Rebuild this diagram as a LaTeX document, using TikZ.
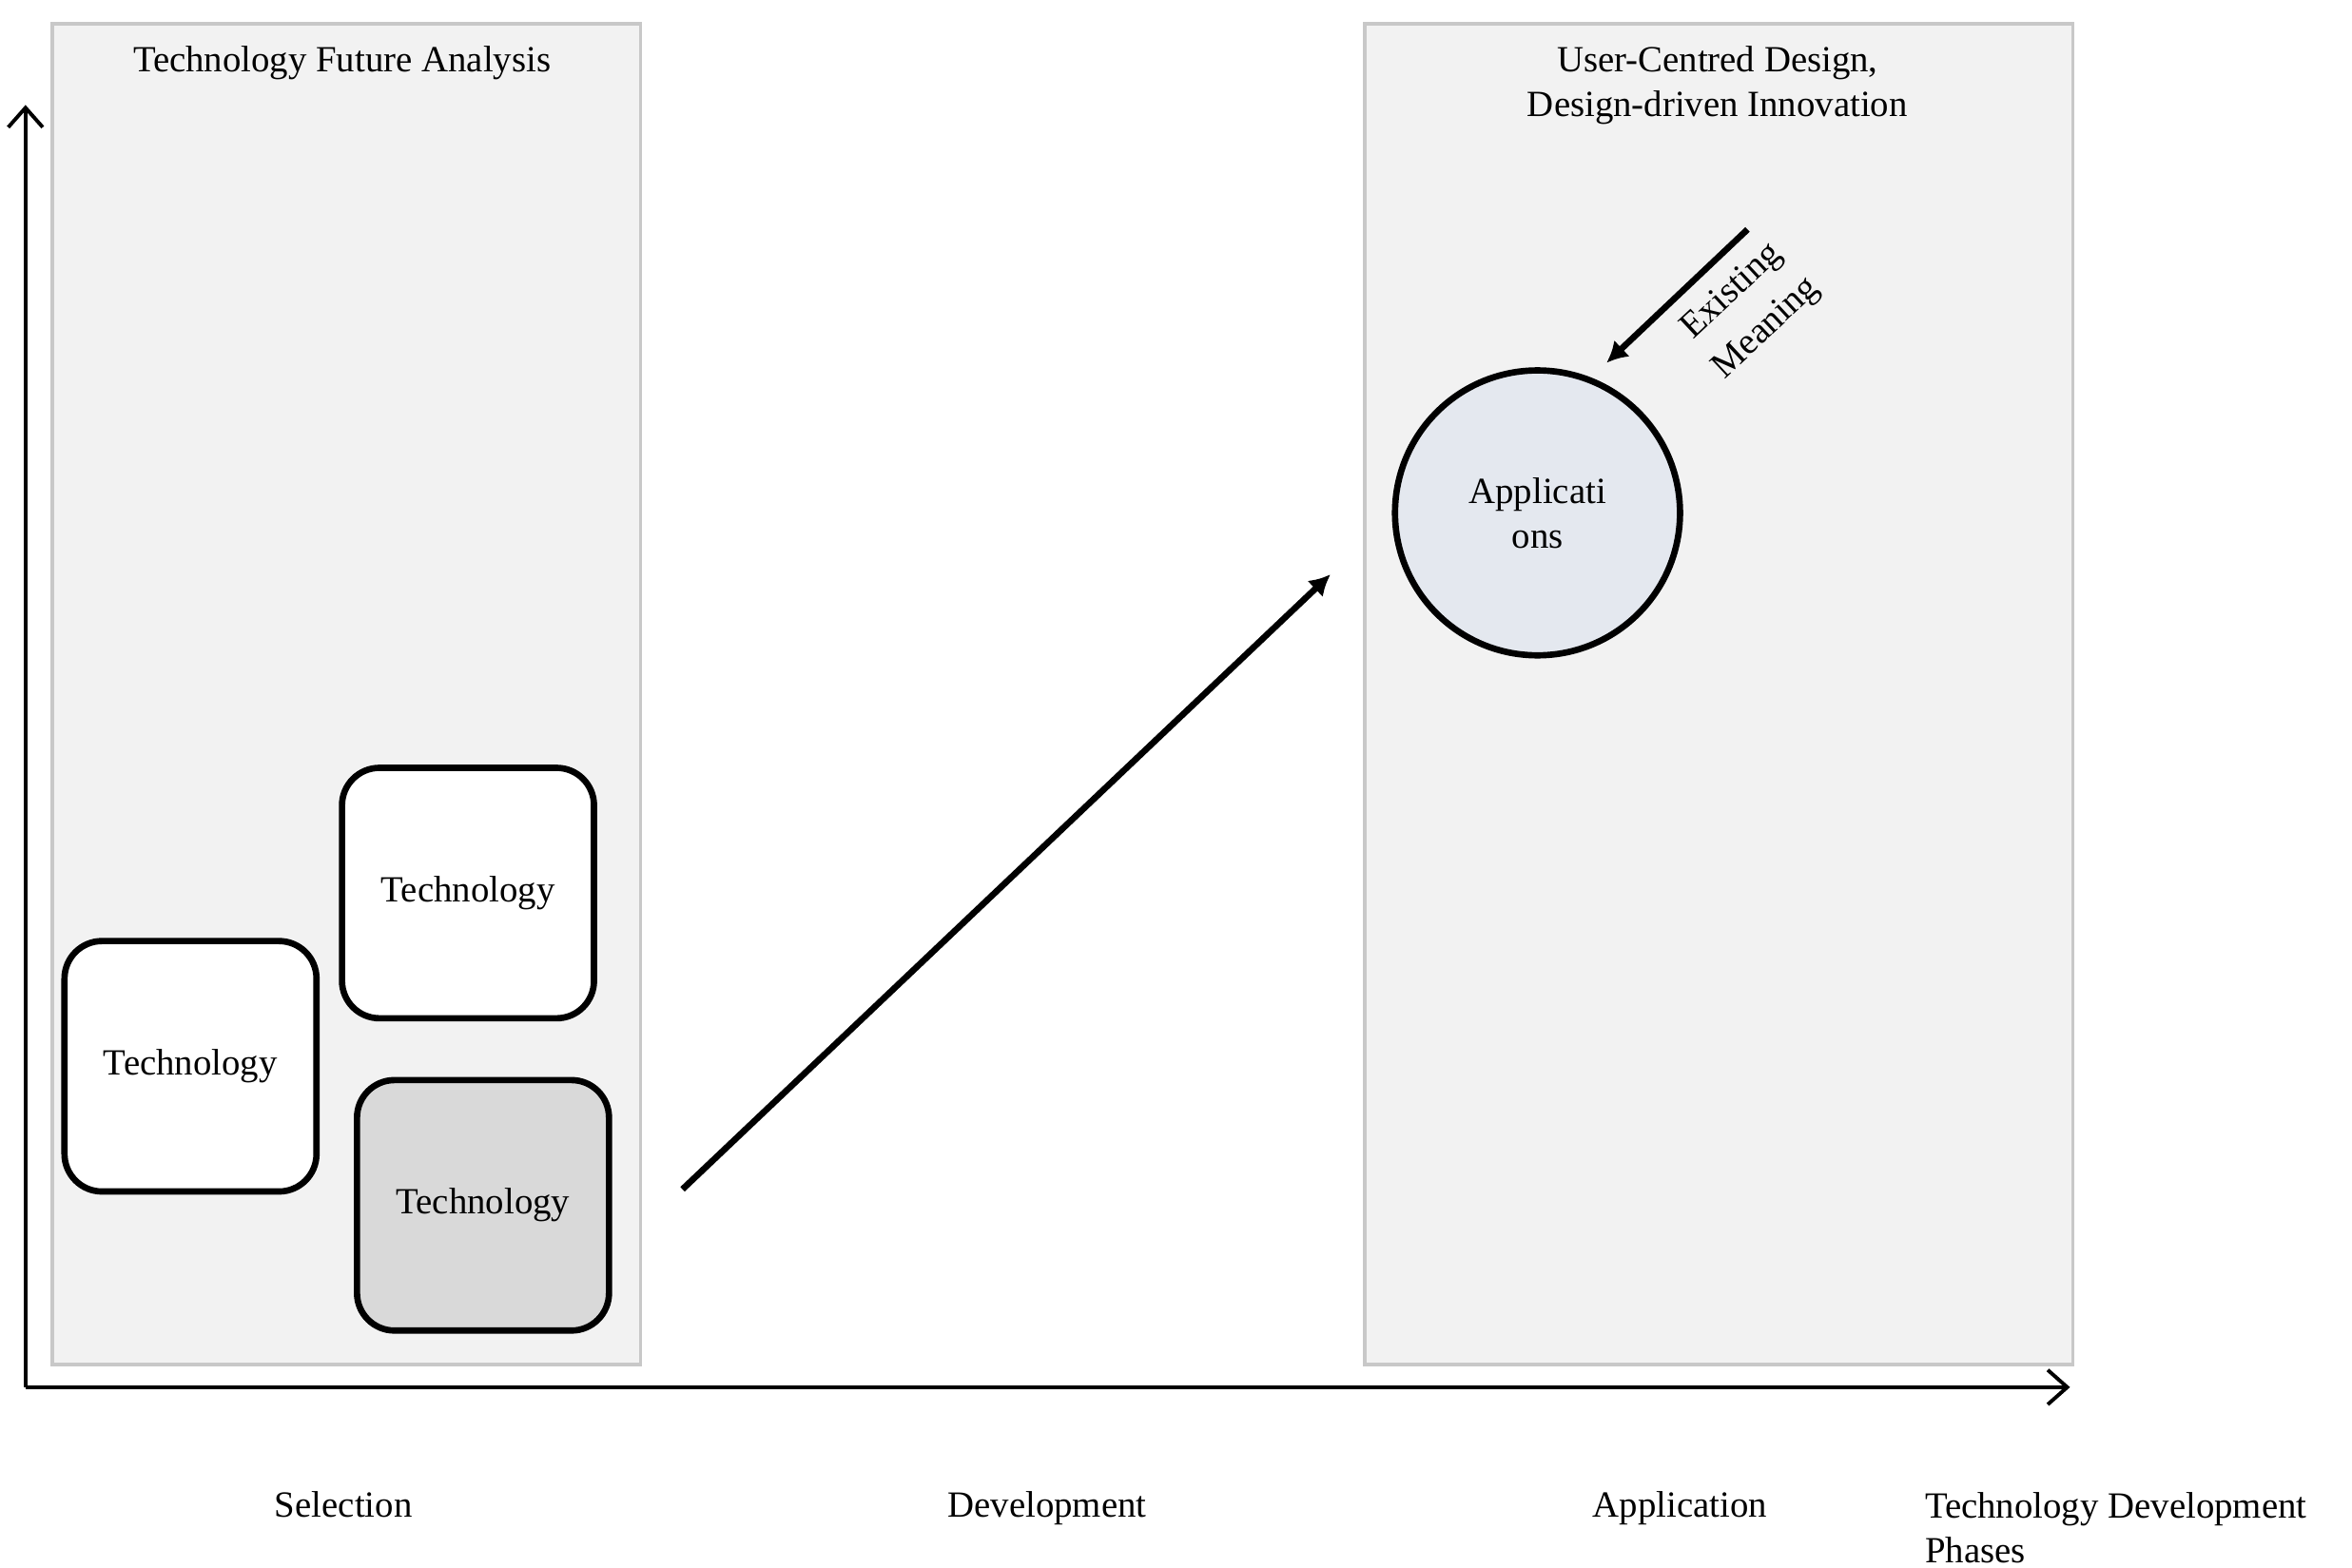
\documentclass[tikz,border=0pt]{standalone}
\usepackage{fontspec}
\setmainfont{Liberation Serif}
\usetikzlibrary{arrows,arrows.meta,positioning}
\definecolor{panelfill}{RGB}{242,242,242}
\definecolor{panelline}{RGB}{200,200,200}
\definecolor{techgray}{RGB}{217,217,217}
\definecolor{appfill}{RGB}{228,232,239}

\begin{document}
\begin{tikzpicture}[font=\fontsize{14}{17}\selectfont,
  panel/.style={draw=panelline,line width=1.3pt,fill=panelfill},
  tech/.style={draw,line width=2.4pt,rounded corners=0.5cm,fill=white,minimum width=3.36cm,minimum height=3.34cm},
  axis/.style={line width=1.4pt,-{Straight Barb[length=2.6mm,width=4.6mm]}},
  bigarrow/.style={line width=2.4pt,-{Latex[length=2.8mm,width=3mm]}},
  phase/.style={anchor=base}]
\useasboundingbox (0,-0.1) rectangle (31.36,20.8);
\node[panel,minimum width=7.84cm,minimum height=17.88cm] (sel) at (4.62,11.54) {};
\node[panel,minimum width=9.44cm,minimum height=17.88cm] (app) at (22.92,11.54) {};
\node (seltitle) at (4.56,19.96) {Technology Future Analysis};
\node[align=center] (apptitle) at (22.9,19.66) {User-Centred Design,\\Design-driven Innovation};
% axes
\coordinate (o) at (0.34,2.3);
\coordinate (ytop) at (0.34,19.4);
\coordinate (xend) at (27.6,2.3);
\draw[axis] (o) -- (ytop);
\draw[axis] (o) -- (xend);
% technologies
\node[tech] (t1) at (2.54,6.58) {Technology};
\node[tech] (t2) at (6.24,8.89) {Technology};
\node[tech,fill=techgray] [below = 0.74cm of t2, xshift=0.2cm] (t3) {Technology};
\node[draw,shape=circle,line width=2.4pt,fill=appfill,minimum size=3.8cm,align=center] (apps) at (20.5,13.96) {Applicati\\ons};
\coordinate (devstart) at (9.1,4.94);
\coordinate (devend) at (17.74,13.14);
\draw[bigarrow] (devstart) -- (devend);
\coordinate (meanstart) at (23.3,17.74);
\coordinate (meanend) at (21.42,15.96);
\draw[bigarrow] (meanstart) -- (meanend);
\node[rotate=43,align=center] (meaning) at (23.33,16.66) {Existing\\[2pt]Meaning};
% phases
\node[phase] (selection) at (4.58,0.57) {Selection};
\node[phase] (development) at (13.96,0.57) {Development};
\node[phase] (application) at (22.4,0.57) {Application};
\node[anchor=west,align=left,inner sep=0] (phases) at (25.66,0.42) {Technology Development\\Phases};
\end{tikzpicture}
\end{document}
